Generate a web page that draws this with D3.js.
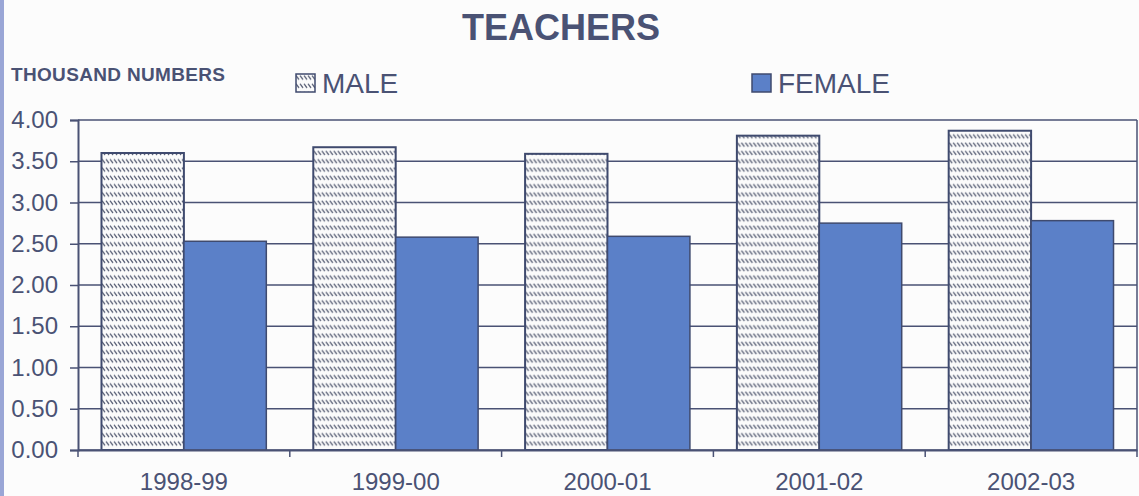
<!DOCTYPE html>
<meta charset="UTF-8">
<script src="https://d3js.org/d3.v7.min.js"></script>
<style>
  body { margin: 0; background: #fcfcfc; }
  text { font-family: "Liberation Sans", Arial, sans-serif; fill: #4a5274; }
</style>
<svg id="chart" width="1139" height="496"></svg>
<script>
// data
var years = ["1998-99", "1999-00", "2000-01", "2001-02", "2002-03"];
var male = [3.60, 3.67, 3.59, 3.81, 3.87];
var female = [2.53, 2.58, 2.59, 2.75, 2.78];
var yTicks = [0, 0.5, 1, 1.5, 2, 2.5, 3, 3.5, 4];

var svg = d3.select("#chart"),
  width = +svg.attr("width"),
  height = +svg.attr("height");

var margin = {left: 78, right: 2, top: 120, bottom: 46};
var ink = "#4a5274";

// hatch for the male bars: rows of short backslashes with white gaps
var defs = svg.append("defs");
var pat = defs.append("pattern")
  .attr("id", "hatch")
  .attr("patternUnits", "userSpaceOnUse")
  .attr("width", 4).attr("height", 8.3);
pat.append("rect").attr("width", 4).attr("height", 8.3).attr("fill", "#fbfbfb");
pat.append("path")
  .attr("d", "M0,1.5 L3,5.5 M4,1.5 L7,5.5 M-4,1.5 L-1,5.5")
  .attr("stroke", "#596076")
  .attr("stroke-width", 1.3);

// scan edge on the left
svg.append("rect").attr("x", 0).attr("y", 0).attr("width", 4).attr("height", height)
  .attr("fill", "#9aa6d6");

var x0 = d3.scaleBand()
  .domain(years)
  .range([margin.left, width - margin.right]);

var x1 = d3.scaleBand()
  .domain(["male", "female"])
  .range([0, x0.bandwidth()])
  .paddingOuter(0.285);

var y = d3.scaleLinear()
  .domain([0, 4])
  .range([height - margin.bottom, margin.top]);

// gridlines
svg.append("g")
  .selectAll("line")
  .data(yTicks)
  .enter().append("line")
    .attr("x1", margin.left)
    .attr("x2", width - margin.right)
    .attr("y1", function(d) { return y(d); })
    .attr("y2", function(d) { return y(d); })
    .attr("stroke", ink)
    .attr("stroke-width", 1.5);

// bars
var groups = svg.append("g")
  .selectAll("g")
  .data(years)
  .enter().append("g")
    .attr("transform", function(d) { return "translate(" + x0(d) + ",0)"; });

groups.append("rect")
  .attr("x", x1("male"))
  .attr("width", x1.bandwidth())
  .attr("y", function(d, i) { return y(male[i]); })
  .attr("height", function(d, i) { return y(0) - y(male[i]); })
  .attr("fill", "url(#hatch)")
  .attr("stroke", "#3f4a6e")
  .attr("stroke-width", 2);

groups.append("rect")
  .attr("x", x1("female"))
  .attr("width", x1.bandwidth())
  .attr("y", function(d, i) { return y(female[i]); })
  .attr("height", function(d, i) { return y(0) - y(female[i]); })
  .attr("fill", "#5b80c8")
  .attr("stroke", "#3f4a6e")
  .attr("stroke-width", 1.5);

// right border of plot
svg.append("line")
  .attr("x1", width - margin.right).attr("x2", width - margin.right)
  .attr("y1", y(4)).attr("y2", y(0))
  .attr("stroke", ink).attr("stroke-width", 1.5);

// y axis
var yAxis = svg.append("g")
  .attr("transform", "translate(" + margin.left + ",0)")
  .call(d3.axisLeft(y).tickValues(yTicks).tickFormat(d3.format(".2f")).tickSize(8).tickPadding(12));
yAxis.select(".domain").attr("stroke", ink).attr("stroke-width", 2);
yAxis.selectAll(".tick line").attr("stroke", ink).attr("stroke-width", 1.5);
yAxis.selectAll("text").style("font-size", "24px").attr("fill", ink);

// x axis: ticks on the category boundaries, labels centred
var xAxis = svg.append("g")
  .attr("transform", "translate(0," + y(0) + ")")
  .call(d3.axisBottom(x0).tickSize(0).tickPadding(23));
xAxis.select(".domain").attr("stroke", ink).attr("stroke-width", 2);
xAxis.selectAll("text").style("font-size", "24px").attr("fill", ink);
xAxis.selectAll(".bound")
  .data(years.map(function(d) { return x0(d); }).concat([x0.range()[1]]))
  .enter().append("line")
    .attr("x1", function(d) { return d; })
    .attr("x2", function(d) { return d; })
    .attr("y1", 0).attr("y2", 7)
    .attr("stroke", ink).attr("stroke-width", 1.5);

// title
svg.append("text")
  .attr("x", 561).attr("y", 40)
  .attr("text-anchor", "middle")
  .style("font-size", "36px").style("font-weight", "bold")
  .text("TEACHERS");

svg.append("text")
  .attr("x", 11).attr("y", 81)
  .style("font-size", "19px").style("font-weight", "bold")
  .attr("textLength", 214)
  .text("THOUSAND NUMBERS");

// legend
var legend = [
  {name: "MALE", fill: "url(#hatch)", x: 296},
  {name: "FEMALE", fill: "#5b80c8", x: 752}
];
var lg = svg.append("g").selectAll("g")
  .data(legend)
  .enter().append("g")
    .attr("transform", function(d) { return "translate(" + d.x + ",74)"; });
lg.append("rect")
  .attr("width", 19).attr("height", 18)
  .attr("fill", function(d) { return d.fill; })
  .attr("stroke", "#3f4a6e").attr("stroke-width", 1.5);
lg.append("text")
  .attr("x", 26).attr("y", 19)
  .style("font-size", "28px")
  .text(function(d) { return d.name; });
</script>
